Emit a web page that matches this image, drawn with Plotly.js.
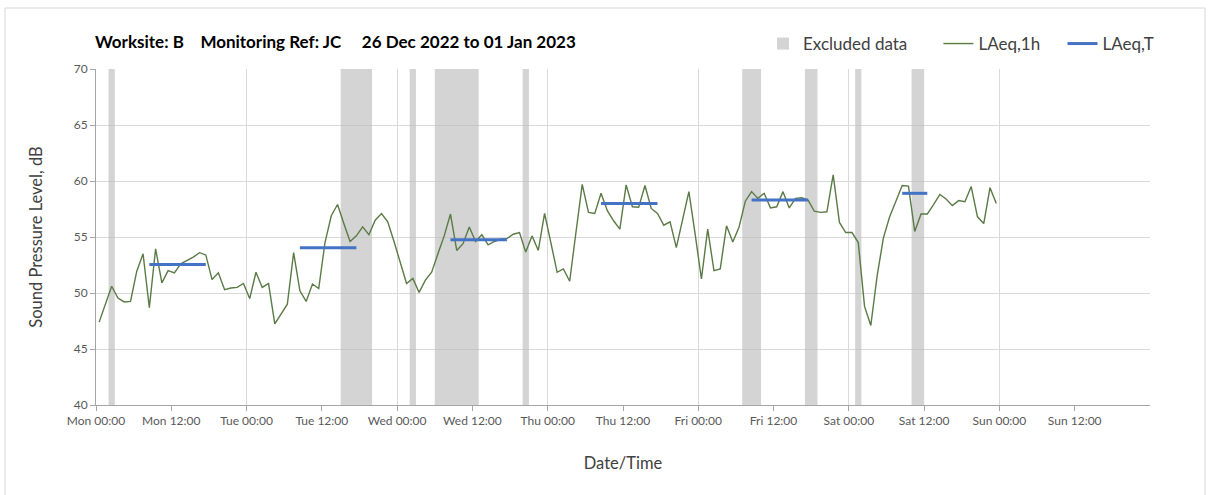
<!DOCTYPE html>
<html>
<head>
<meta charset="utf-8">
<script src="https://cdn.plot.ly/plotly-3.0.1.min.js"></script>
<style>html,body{margin:0;padding:0;background:#fff;}#chart{width:1208px;height:495px;}</style>
</head>
<body>
<div id="chart"></div>
<script>
// Hourly LAeq,1h values (first value at Mon 26 Dec 00:30)
const seriesStart = '2022-12-26T00:30:00Z';
const laeq1hMon = [47.4, 49.1, 50.6, 49.55, 49.2, 49.25, 51.95, 53.5, 48.7, 53.95, 50.9, 52.0, 51.8, 52.6, 52.9, 53.2, 53.6, 53.4, 51.2, 51.8, 50.3, 50.45, 50.5, 50.85];
const laeq1hTue = [49.5, 51.85, 50.5, 50.85, 47.25, 48.1, 49.0, 53.6, 50.2, 49.25, 50.8, 50.4, 54.5, 56.9, 57.9, 56.2, 54.6, 55.1, 55.9, 55.2, 56.5, 57.1, 56.35, 54.6];
const laeq1hWed = [52.75, 50.85, 51.3, 50.05, 51.15, 51.85, 53.5, 55.1, 57.05, 53.8, 54.4, 55.9, 54.6, 55.2, 54.3, 54.6, 54.8, 54.85, 55.25, 55.4, 53.65, 55.1, 53.8, 57.1];
const laeq1hThu = [54.5, 51.85, 52.15, 51.05, 55.4, 59.7, 57.2, 57.1, 58.9, 57.35, 56.45, 55.7, 59.65, 57.7, 57.65, 59.6, 57.55, 57.1, 56.05, 56.35, 54.05, 56.5, 59.05, 55.25];
const laeq1hFri = [51.25, 55.7, 52.0, 52.15, 56.0, 54.55, 55.9, 58.2, 59.05, 58.45, 58.9, 57.6, 57.7, 59.05, 57.6, 58.45, 58.5, 58.3, 57.3, 57.2, 57.25, 60.55, 56.3, 55.4];
const laeq1hSat = [55.4, 54.5, 48.8, 47.1, 51.5, 54.9, 56.8, 58.2, 59.6, 59.55, 55.5, 57.05, 57.05, 57.9, 58.8, 58.4, 57.8, 58.25, 58.15, 59.5, 56.8, 56.2, 59.4, 58.0];

// LAeq,T periods
const periodStart = ['2022-12-26 08:30', '2022-12-27 08:30', '2022-12-28 08:30', '2022-12-29 08:30', '2022-12-30 08:30', '2022-12-31 08:30'];
const periodEnd   = ['2022-12-26 17:30', '2022-12-27 17:30', '2022-12-28 17:30', '2022-12-29 17:30', '2022-12-30 17:30', '2022-12-31 12:30'];
const laeqT = [52.55, 54.05, 54.75, 58.0, 58.3, 58.9];

// Excluded data periods
const exclStart = ['2022-12-26 02:00', '2022-12-27 15:00', '2022-12-28 02:00', '2022-12-28 06:00', '2022-12-28 20:00', '2022-12-30 07:00', '2022-12-30 17:00', '2022-12-31 01:00', '2022-12-31 10:00'];
const exclEnd   = ['2022-12-26 03:00', '2022-12-27 20:00', '2022-12-28 03:00', '2022-12-28 13:00', '2022-12-28 21:00', '2022-12-30 10:00', '2022-12-30 19:00', '2022-12-31 02:00', '2022-12-31 12:00'];

// x-axis tick positions (labels drawn as "%a %H:%M")
const xTicks = ['2022-12-26 00:00', '2022-12-26 12:00', '2022-12-27 00:00', '2022-12-27 12:00',
                '2022-12-28 00:00', '2022-12-28 12:00', '2022-12-29 00:00', '2022-12-29 12:00',
                '2022-12-30 00:00', '2022-12-30 12:00', '2022-12-31 00:00', '2022-12-31 12:00',
                '2023-01-01 00:00', '2023-01-01 12:00'];

const yMin = 40, yMax = 70;
const xRange = ['2022-12-26 00:00', '2023-01-02 00:00'];

// ---- build traces ----
const HOUR = 3600000;
const toMs = s => new Date(s.replace(' ', 'T') + ':00Z').getTime();
const toStr = ms => new Date(ms).toISOString().replace('T', ' ').slice(0, 19);

const laeq1h = [].concat(laeq1hMon, laeq1hTue, laeq1hWed, laeq1hThu, laeq1hFri, laeq1hSat);
const t0 = new Date(seriesStart).getTime();
const hourTimes = laeq1h.map((v, i) => toStr(t0 + i * HOUR));

const exX = [], exW = [];
exclStart.forEach((s, i) => {
  const a = toMs(s), b = toMs(exclEnd[i]);
  exX.push(toStr((a + b) / 2));
  exW.push(b - a);
});

const tX = [], tY = [];
periodStart.forEach((s, i) => {
  tX.push(s, periodEnd[i], null);
  tY.push(laeqT[i], laeqT[i], null);
});

const FONT = 'Lato, "Open Sans", sans-serif';

const traces = [
  {
    type: 'bar', name: 'Excluded data&nbsp;&nbsp;&nbsp;&nbsp;&nbsp;&nbsp;', x: exX, width: exW,
    y: exX.map(() => yMax - yMin), base: yMin,
    marker: {color: 'rgba(185,185,185,0.62)', line: {width: 0}},
    hoverinfo: 'skip', xaxis: 'x', yaxis: 'y'
  },
  {
    type: 'scatter', mode: 'lines', name: 'LAeq,1h&nbsp;&nbsp;&nbsp;&nbsp;', x: hourTimes, y: laeq1h,
    line: {color: '#5a7a46', width: 1.4}, xaxis: 'x', yaxis: 'y'
  },
  {
    type: 'scatter', mode: 'lines', name: 'LAeq,T', x: tX, y: tY, connectgaps: false,
    line: {color: '#4472c4', width: 3}, xaxis: 'x', yaxis: 'y'
  },
  // invisible trace to carry the daily gridlines axis
  {
    type: 'scatter', mode: 'lines', x: xRange, y: [yMin, yMin], showlegend: false,
    line: {width: 0}, hoverinfo: 'skip', xaxis: 'x2', yaxis: 'y'
  }
];

const layout = {
  width: 1208, height: 495,
  margin: {l: 96, r: 58, t: 69, b: 90},
  paper_bgcolor: '#ffffff', plot_bgcolor: 'rgba(0,0,0,0)',
  font: {family: FONT, size: 12, color: '#595959'},
  showlegend: true,
  title: {
    text: 'Worksite: B&nbsp;&nbsp;&nbsp;&nbsp;Monitoring Ref: JC&nbsp;&nbsp;&nbsp;&nbsp;&nbsp;26 Dec 2022 to 01 Jan 2023',
    font: {family: FONT, size: 17, color: '#000000', weight: 'bold'},
    x: 95 / 1208, xanchor: 'left', xref: 'container', y: 1 - 42 / 495, yanchor: 'middle', yref: 'container'
  },
  legend: {
    orientation: 'h', x: (763 - 96) / 1054, xanchor: 'left', y: 1 + 25 / 336, yanchor: 'middle',
    font: {family: FONT, size: 17, color: '#404040'},
    traceorder: 'normal', itemwidth: 30, bgcolor: 'rgba(0,0,0,0)'
  },
  barmode: 'overlay',
  xaxis: {
    type: 'date', range: xRange,
    tickmode: 'array', tickvals: xTicks, tickformat: '%a %H:%M',
    showgrid: false, zeroline: false,
    showline: true, linecolor: '#a6a6a6', linewidth: 1,
    ticks: 'outside', ticklen: 5, tickcolor: '#a6a6a6',
    tickfont: {family: FONT, size: 12, color: '#595959'},
    title: {text: 'Date/Time', font: {family: FONT, size: 16.5, color: '#404040'}, standoff: 30}
  },
  xaxis2: {
    type: 'date', range: xRange, overlaying: 'x', anchor: 'y',
    dtick: 24 * HOUR, tick0: '2022-12-26 00:00',
    showgrid: true, gridcolor: '#d9d9d9', gridwidth: 1,
    showticklabels: false, ticks: '', showline: false, zeroline: false
  },
  yaxis: {
    range: [yMin, yMax], dtick: 5, tick0: 40,
    showgrid: true, gridcolor: '#d9d9d9', gridwidth: 1, zeroline: false,
    showline: true, linecolor: '#a6a6a6', linewidth: 1,
    ticks: 'outside', ticklen: 5, tickcolor: '#a6a6a6',
    tickfont: {family: FONT, size: 12, color: '#595959'},
    title: {text: 'Sound Pressure Level, dB', font: {family: FONT, size: 16.5, color: '#404040'}, standoff: 26}
  },
  shapes: [
    {type: 'rect', xref: 'paper', yref: 'paper',
     x0: (5 - 96) / 1054, x1: (1205 - 96) / 1054, y0: (405 - 500) / 336, y1: (405 - 8) / 336,
     line: {color: '#d9d9d9', width: 1}, fillcolor: 'rgba(0,0,0,0)', layer: 'below'}
  ]
};

Plotly.newPlot('chart', traces, layout, {displayModeBar: false, staticPlot: true});
</script>
</body>
</html>
